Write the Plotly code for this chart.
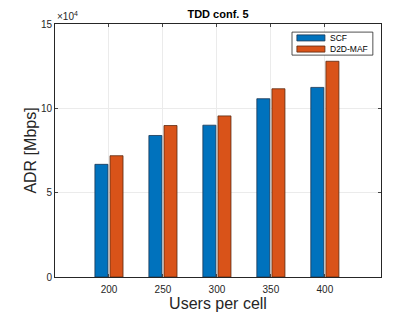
import plotly.graph_objects as go

users = [200, 250, 300, 350, 400]
scf = [66800, 83900, 90000, 105700, 112400]
d2d_maf = [71900, 89800, 95500, 111600, 127900]
y_tickvals = [0, 50000, 100000, 150000]
y_ticktext = ["0", "5", "10", "15"]
x_tickvals = [200, 250, 300, 350, 400]
series_names = ["SCF", "D2D-MAF"]
series_colors = ["#0072BD", "#D95319"]
edge_colors = ["#1a3550", "#5a2a10"]

FONT = "Liberation Sans, Arial, sans-serif"
AX = "#262626"

fig = go.Figure()
for name, vals, col, edge in zip(series_names, [scf, d2d_maf], series_colors, edge_colors):
    fig.add_trace(go.Bar(x=users, y=vals, name=name,
                         marker=dict(color=col, line=dict(color=edge, width=0.8))))

fig.update_layout(
    width=420, height=315,
    margin=dict(l=55, r=39, t=24, b=38, autoexpand=False),
    paper_bgcolor="white", plot_bgcolor="white",
    barmode="group", bargap=0.44, bargroupgap=0.14,
    font=dict(family=FONT, color=AX, size=10),
    title=dict(text="<b>TDD conf. 5</b>", x=0.5, xref="paper", xanchor="center",
               y=0.955, yref="container", yanchor="middle",
               font=dict(size=11, color="black", family=FONT)),
    showlegend=False,
)
fig.update_xaxes(range=[150, 452], tickvals=x_tickvals, ticks="inside", ticklen=3,
                 showline=True, linecolor=AX, linewidth=1, mirror="ticks",
                 showgrid=True, gridcolor="#ebebeb", gridwidth=1, automargin=True,
                 tickfont=dict(size=10, color=AX), ticklabelstandoff=3,
                 title=dict(text="Users per cell", font=dict(size=16, color=AX), standoff=2))
fig.update_yaxes(range=[0, 150000], tickvals=y_tickvals, ticktext=y_ticktext,
                 ticks="inside", ticklen=3,
                 showline=True, linecolor=AX, linewidth=1, mirror="ticks",
                 showgrid=True, gridcolor="#ebebeb", gridwidth=1, zeroline=False,
                 automargin=True,
                 tickfont=dict(size=10, color=AX),
                 title=dict(text="ADR [Mbps]", font=dict(size=16, color=AX), standoff=0))
fig.add_annotation(text="×10<sup>4</sup>", xref="paper", yref="paper", x=0, y=1,
                   xanchor="left", yanchor="bottom", showarrow=False,
                   font=dict(size=10, color=AX, family=FONT))

# Legend box (drawn in paper coordinates)
fig.add_shape(type="rect", xref="paper", yref="paper", x0=0.727, x1=0.975, y0=0.877, y1=0.968,
              line=dict(color=AX, width=0.8), fillcolor="white", layer="above")
legend_rows = [(0.933, 0.957, 0.945), (0.889, 0.913, 0.901)]
for (y0, y1, yc), name, col, edge in zip(legend_rows, series_names, series_colors, edge_colors):
    fig.add_shape(type="rect", xref="paper", yref="paper", x0=0.742, x1=0.828, y0=y0, y1=y1,
                  line=dict(color=edge, width=0.8), fillcolor=col, layer="above")
    fig.add_annotation(text=name, xref="paper", yref="paper", x=0.838, y=yc,
                       xanchor="left", yanchor="middle", showarrow=False,
                       font=dict(size=8.5, color="black", family=FONT))

fig.write_html("out.html", config={"displayModeBar": False},
               post_script="document.body.style.margin='0';")
